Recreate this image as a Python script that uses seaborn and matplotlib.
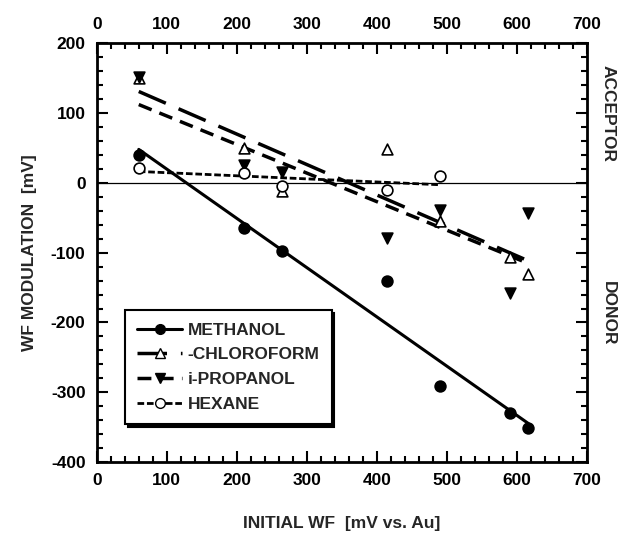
import numpy as np
import pandas as pd
import seaborn as sns
import matplotlib.pyplot as plt
from matplotlib.lines import Line2D
from matplotlib.ticker import MultipleLocator

# datos
x_methanol = [60, 210, 265, 415, 490, 590, 616]
y_methanol = [40, -65, -98, -141, -291, -330, -351]

x_chloroform = [60, 210, 265, 415, 490, 590, 616]
y_chloroform = [150, 50, -12, 49, -55, -106, -130]

x_propanol = [60, 210, 265, 415, 490, 590, 616]
y_propanol = [152, 26, 16, -79, -39, -158, -43]

x_hexane = [60, 210, 265, 415, 490]
y_hexane = [21, 15, -4, -10, 10]

nombres = ['METHANOL', '-CHLOROFORM', 'i-PROPANOL', 'HEXANE']

sns.set_style("ticks")
plt.rcParams['font.family'] = ['Liberation Sans', 'DejaVu Sans']
plt.rcParams['font.weight'] = 'bold'
plt.rcParams['font.size'] = 12.5
plt.rcParams['axes.unicode_minus'] = False

fig = plt.figure(figsize=(6.24, 5.5), dpi=100)
ax = fig.add_axes([0.155, 0.16, 0.786, 0.761])

ax.axhline(0, color='black', lw=0.9, zorder=1)

estilos = [
    dict(marker='o', mfc='black', ls='-', dashes=None),
    dict(marker='^', mfc='white', ls='--', dashes=(8.5, 4)),
    dict(marker='v', mfc='black', ls='--', dashes=(4, 2.4)),
    dict(marker='o', mfc='white', ls=':', dashes=(2.4, 1.0)),
]
series = [(x_methanol, y_methanol), (x_chloroform, y_chloroform),
          (x_propanol, y_propanol), (x_hexane, y_hexane)]
anchos = [2.2, 2.5, 2.5, 2.0]

for (xs, ys), est, lw in zip(series, estilos, anchos):
    df = pd.DataFrame({'x': xs, 'y': ys})
    line_kws = dict(color='black', lw=lw)
    if est['dashes'] is not None:
        line_kws['dashes'] = est['dashes']
    sns.regplot(data=df, x='x', y='y', ax=ax, ci=None, marker=est['marker'],
                scatter_kws=dict(s=60, facecolor=est['mfc'], edgecolor='black',
                                 linewidths=1.2, zorder=3, alpha=1),
                line_kws=line_kws)

ax.set_xlim(0, 700)
ax.set_ylim(-400, 200)
ax.xaxis.set_major_locator(MultipleLocator(100))
ax.xaxis.set_minor_locator(MultipleLocator(20))
ax.yaxis.set_major_locator(MultipleLocator(100))
ax.yaxis.set_minor_locator(MultipleLocator(20))
ax.tick_params(which='both', direction='in', top=True, right=True,
               labeltop=True, width=1.5, colors='black', labelsize=12.5)
ax.tick_params(which='major', length=8, pad=8)
ax.tick_params(which='minor', length=4)
for s in ax.spines.values():
    s.set_linewidth(2)
    s.set_color('black')

ax.set_xlabel('INITIAL WF  [mV vs. Au]', fontsize=12.5, fontweight='bold', labelpad=20)
ax.set_ylabel('WF MODULATION  [mV]', fontsize=12.5, fontweight='bold', labelpad=10)

ax.text(1.043, (100 + 400) / 600, 'ACCEPTOR', transform=ax.transAxes, rotation=-90,
        ha='center', va='center', fontsize=12.5, fontweight='heavy')
ax.text(1.043, (-187 + 400) / 600, 'DONOR', transform=ax.transAxes, rotation=-90,
        ha='center', va='center', fontsize=12.5, fontweight='heavy')

handles = []
for est, lw in zip(estilos, anchos):
    h = Line2D([], [], color='black', lw=lw, ls=est['ls'], marker=est['marker'],
               mfc=est['mfc'], mec='black', ms=7)
    if est['dashes'] is not None:
        h.set_dashes(est['dashes'])
    handles.append(h)
leg = ax.legend(handles, nombres, loc='lower left', bbox_to_anchor=(0.04, 0.07),
                frameon=True, fancybox=False, shadow={'color': 'black', 'alpha': 1},
                fontsize=12.5, handlelength=2.6, handletextpad=0.3,
                borderpad=0.7, labelspacing=0.55)
leg.get_frame().set_edgecolor('black')
leg.get_frame().set_linewidth(1.5)

plt.savefig('out.png', dpi=100)
plt.close()
